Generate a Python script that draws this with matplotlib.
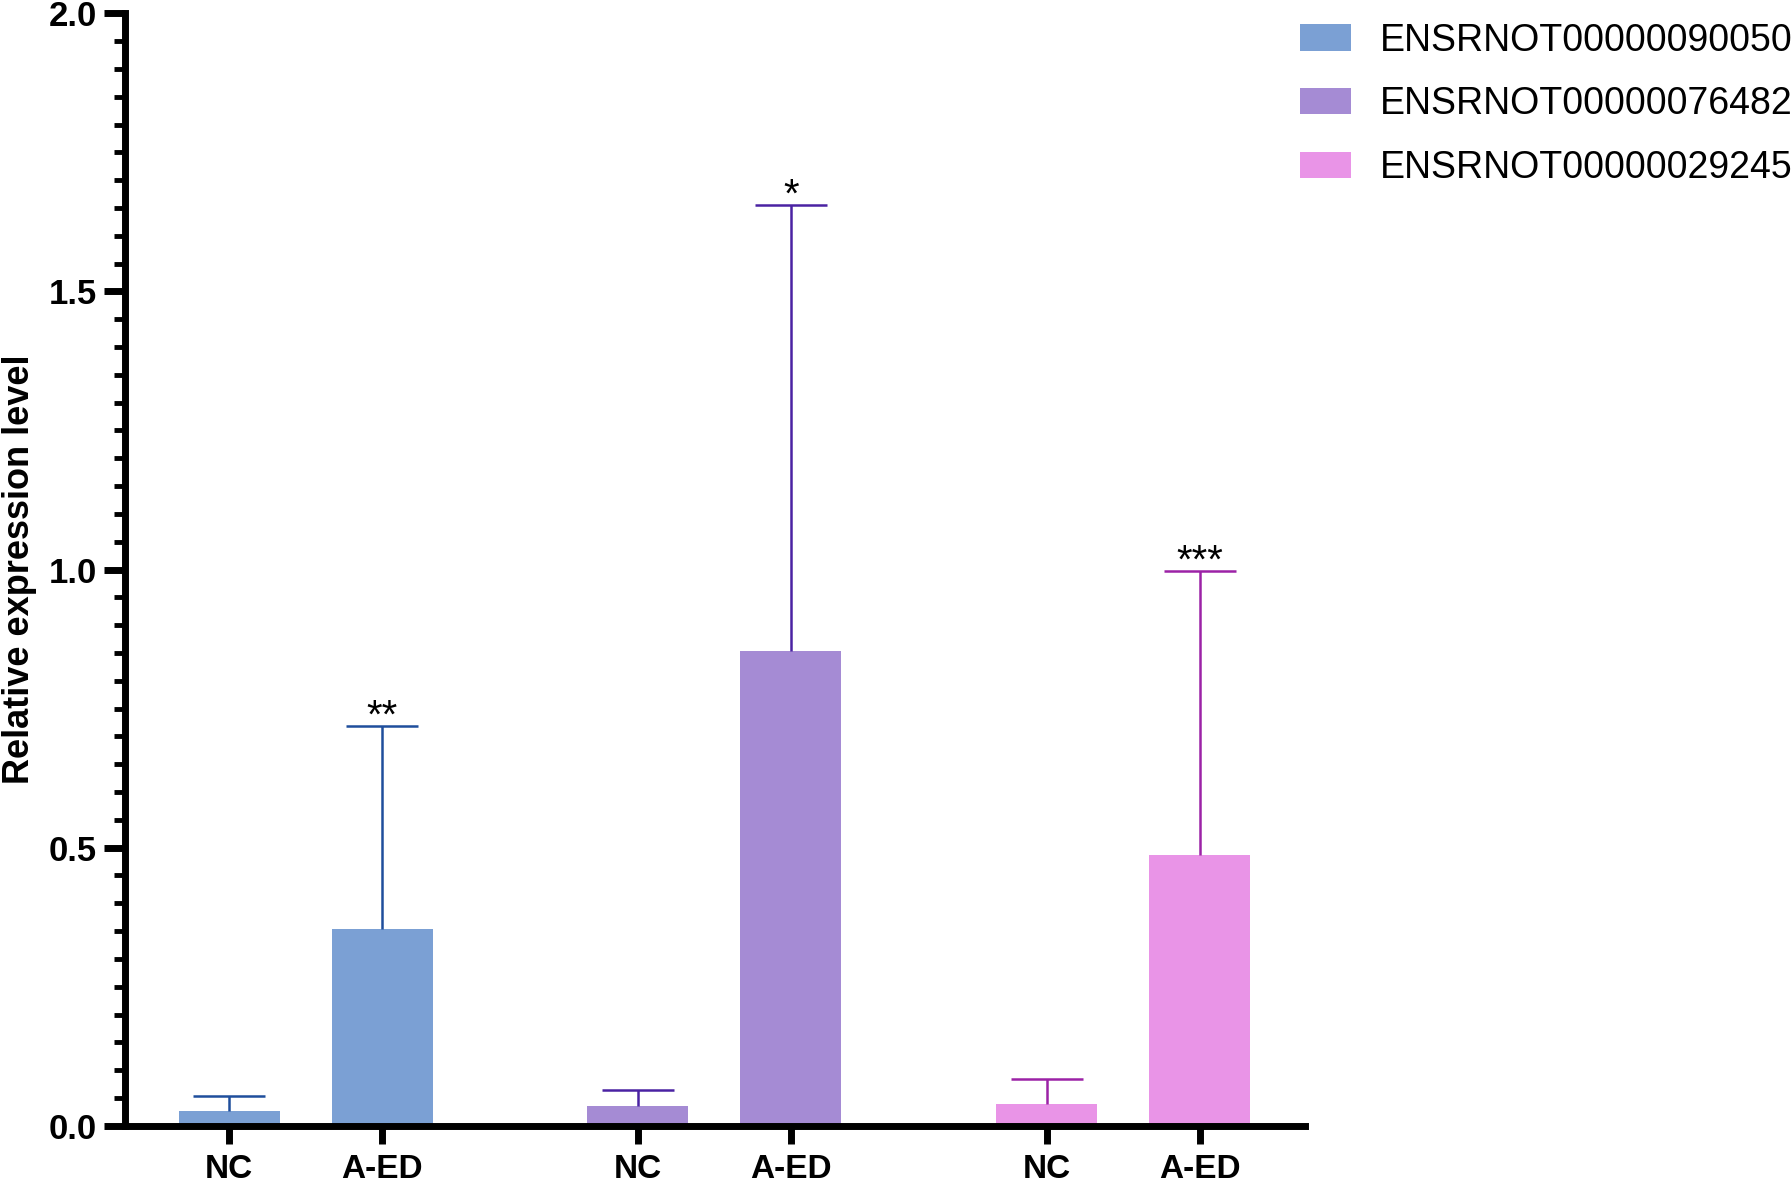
import numpy as np
import matplotlib
matplotlib.use("Agg")
import matplotlib.pyplot as plt
from matplotlib.ticker import MultipleLocator, FormatStrFormatter

plt.rcParams['font.family'] = ['Liberation Sans', 'DejaVu Sans']

# data
genes = ['ENSRNOT00000090050', 'ENSRNOT00000076482', 'ENSRNOT00000029245']
groups = ['NC', 'A-ED']
means = [[0.027, 0.353], [0.035, 0.853], [0.039, 0.486]]
errs = [[0.026, 0.365], [0.029, 0.802], [0.045, 0.511]]
stars = ['**', '*', '***']

bar_colors = ['#7BA0D4', '#A58BD4', '#E994E7']
err_colors = ['#1F4E9C', '#4A22A3', '#9C22A6']

fig = plt.figure(figsize=(17.91, 11.85), dpi=100)
ax = fig.add_axes([0.0698, 0.0500, 0.659, 0.9388])

group_gap = 2.67
width = 0.66
xticks = []
xlabels = []
for i, g in enumerate(genes):
    xs = np.array([0, 1]) + i * group_gap
    ax.bar(xs, means[i], width=width, color=bar_colors[i], label=g,
           edgecolor='none', zorder=2)
    _, caps, _ = ax.errorbar(xs, means[i], yerr=[np.zeros(2), errs[i]],
                             fmt='none', ecolor=err_colors[i],
                             elinewidth=1.8, capsize=26, capthick=1.8,
                             zorder=3)
    caps[0].set_visible(False)  # no cap at bar top
    top = means[i][1] + errs[i][1]
    ax.text(xs[1], top - 0.003, stars[i], ha='center', va='baseline',
            fontsize=29)
    xticks += list(xs)
    xlabels += groups

ax.set_xlim(-0.68, 7.03)
ax.set_ylim(0, 2.0)
ax.set_xticks(xticks)
ax.set_xticklabels(xlabels, fontsize=24, fontweight='bold')
ax.yaxis.set_major_locator(MultipleLocator(0.5))
ax.yaxis.set_minor_locator(MultipleLocator(0.05))
ax.yaxis.set_major_formatter(FormatStrFormatter('%.1f'))
for lab in ax.get_yticklabels():
    lab.set_fontsize(25)
    lab.set_fontweight('bold')

fig.text(0.001, 0.52, 'Relative expression level', rotation=90,
         ha='left', va='center', fontsize=26, fontweight='bold')

for s in ['top', 'right']:
    ax.spines[s].set_visible(False)
for s in ['left', 'bottom']:
    ax.spines[s].set_linewidth(5)
    ax.spines[s].set_capstyle('projecting')
ax.tick_params(axis='y', which='major', length=15, width=5, pad=5)
ax.tick_params(axis='y', which='minor', length=8, width=3.5)
ax.tick_params(axis='x', which='major', length=13, width=5, pad=7)

fig.legend(loc='upper left', bbox_to_anchor=(0.726, 0.981), frameon=False,
           fontsize=27, handlelength=1.35, handleheight=0.7,
           handletextpad=0.76, labelspacing=0.74, borderpad=0,
           borderaxespad=0)

fig.savefig('out.png', dpi=100)
